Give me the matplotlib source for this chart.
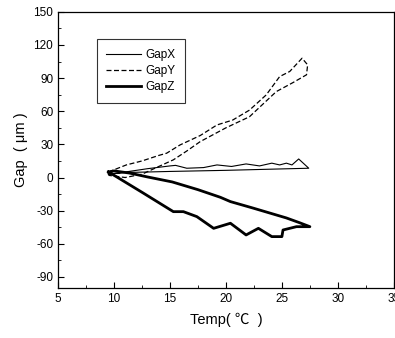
import numpy as np
import matplotlib.pyplot as plt
from matplotlib.ticker import MultipleLocator

plt.rcParams['font.family'] = ['Liberation Sans', 'Noto Sans CJK KR', 'DejaVu Sans']
plt.rcParams['axes.unicode_minus'] = False

# GapX: thin solid loop (heating branch, then cooling branch)
gapx_temp = [9.5, 11.0, 13.0, 15.0, 15.5, 16.5, 18.0, 19.2, 20.5, 21.8, 23.0, 24.1,
             24.8, 25.4, 25.9, 26.5, 27.4, 25.0, 20.0, 15.0, 11.0, 9.5]
gapx_val = [3.0, 5.0, 8.0, 10.5, 11.0, 8.4, 9.0, 11.4, 10.0, 12.3, 10.5, 13.0,
            11.4, 13.0, 11.4, 16.8, 8.4, 7.8, 6.5, 5.5, 4.5, 3.0]

# GapY: dashed loop
gapy_temp = [9.5, 11.1, 12.5, 14.0, 14.7, 15.9, 17.7, 19.2, 20.6, 22.1, 23.6, 24.8,
             25.7, 26.8, 27.3, 27.2, 26.0, 24.5, 22.1, 20.0, 17.7, 16.5, 15.3,
             14.0, 12.5, 11.0, 9.5]
gapy_val = [5.0, 11.4, 15.0, 20.0, 22.0, 29.5, 38.0, 47.6, 52.0, 61.0, 74.8, 91.4,
            96.0, 108.0, 102.0, 93.0, 86.0, 77.8, 55.0, 45.0, 32.5, 24.0, 16.0,
            10.0, 3.0, 0.0, 2.0]

# GapZ: thick loop
gapz_temp = [9.5, 10.0, 11.4, 13.0, 15.2, 17.5, 19.5, 20.4, 22.4, 25.4, 26.6, 27.5,
             26.3, 25.1, 25.0, 24.1, 22.9, 21.8, 20.4, 18.9, 17.4, 16.2, 15.3,
             12.6, 10.2, 9.5]
gapz_val = [5.0, 6.0, 4.0, 0.5, -4.0, -11.0, -17.9, -21.8, -27.6, -36.6, -41.0, -44.5,
            -44.5, -47.5, -53.5, -53.5, -46.0, -52.0, -41.4, -46.0, -35.4, -30.9, -30.9,
            -14.0, 0.8, 5.0]

fig = plt.figure(figsize=(3.95, 3.38), dpi=100)
ax = fig.add_axes([0.147, 0.148, 0.850, 0.817])

ax.plot(gapx_temp, gapx_val, color='black', lw=0.8, label='GapX')
ax.plot(gapy_temp, gapy_val, color='black', lw=0.9, ls=(0, (4, 2)), label='GapY')
ax.plot(gapz_temp, gapz_val, color='black', lw=2.0, label='GapZ')

ax.set_xlim(5, 35)
ax.set_ylim(-100, 150)
ax.set_xticks(np.arange(5, 36, 5))
ax.set_yticks(np.arange(-90, 151, 30))
ax.xaxis.set_minor_locator(MultipleLocator(2.5))
ax.yaxis.set_minor_locator(MultipleLocator(15))
ax.tick_params(which='both', direction='in', top=False, right=False, labelsize=8.5)
ax.tick_params(which='major', length=4, width=0.8)
ax.tick_params(which='minor', length=2, width=0.6)
for s in ax.spines.values():
    s.set_linewidth(0.9)

ax.set_xlabel('Temp( \u2103  )', fontsize=10.5, labelpad=6)
ax.set_ylabel('Gap  ( \u03bcm )', fontsize=10.5, labelpad=4)

leg = ax.legend(loc='upper left', bbox_to_anchor=(0.116, 0.90), fontsize=8.5,
                frameon=True, fancybox=False, edgecolor='black', handlelength=2.9,
                borderpad=0.8, labelspacing=0.35, handletextpad=0.4, borderaxespad=0)
leg.get_frame().set_linewidth(0.8)

fig.savefig('out.png', dpi=100)
